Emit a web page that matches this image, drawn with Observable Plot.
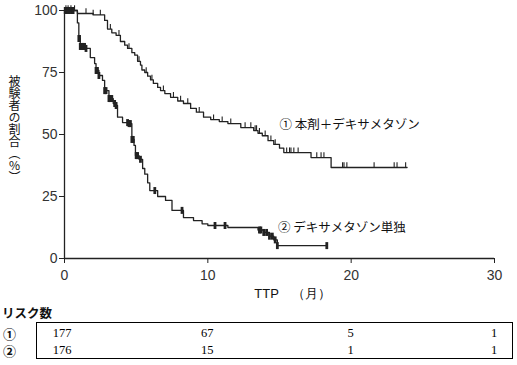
<!DOCTYPE html>
<html><head><meta charset="utf-8">
<script src="https://cdn.jsdelivr.net/npm/d3@7"></script>
<script src="https://cdn.jsdelivr.net/npm/@observablehq/plot@0.6"></script>
<style>
body{margin:0;background:#fff;}
#wrap{position:relative;width:517px;height:365px;overflow:hidden;font-family:"Liberation Sans",Arial,sans-serif;color:#222;}
#wrap svg{position:absolute;left:0;top:0;overflow:visible;}
.abs{position:absolute;white-space:nowrap;}
#ylab{left:8px;top:75px;writing-mode:vertical-rl;text-orientation:upright;font-family:"Noto Sans CJK JP",sans-serif;font-size:12px;line-height:12px;color:#111;}
#risktitle{left:2px;top:305px;font-family:"Noto Sans CJK JP",sans-serif;font-weight:bold;font-size:12.5px;line-height:16px;color:#111;}
#rowlab{left:3px;top:325px;white-space:pre;font-family:"Noto Sans CJK JP",sans-serif;font-weight:bold;font-size:13px;line-height:17px;color:#111;}
#box{left:36px;top:322px;width:477px;height:37px;box-sizing:border-box;border:1.3px solid #000;}
.num{font-family:"Liberation Serif","Times New Roman",serif;font-size:12.5px;line-height:14px;color:#000;transform:translateX(-50%);}
</style></head><body><div id="wrap"></div>
<script>
// Kaplan-Meier: ① 本剤＋デキサメタゾン
const comboTime = [0,0.9,2.0,2.8,3.0,3.3,3.6,3.9,4.2,4.4,4.7,4.9,5.1,5.3,5.4,5.6,5.8,6.0,6.2,6.5,6.7,7.0,7.4,7.9,8.3,8.8,9.2,9.7,10.2,10.8,11.4,12.3,13.2,13.5,13.8,14.2,14.6,15.0,15.3,17.2,18.6,23.9];
const comboPct  = [100,98.8,98.2,96,92.5,91,90,87.5,86,84.7,83,82,79.5,78,76,75,73.5,72,70.6,69,67.7,66.5,65,63.5,62.5,60.5,59,57,56,55.2,54.4,52.8,51.6,50.5,49.5,47.5,46,44.5,42.7,40.7,36.7,36.7];
const comboCensor = [0.1,0.25,0.45,0.7,1.5,2.0,2.5,3.2,3.8,4.5,5.2,5.7,6.1,6.9,7.6,8.1,8.6,9.4,10.4,11.0,11.6,12.6,13.0,13.3,13.4,13.6,14.0,14.4,14.7,15.5,15.7,15.8,16.0,16.3,17.6,17.9,18.1,19.4,19.5,19.7,21.6,23.0,23.2,23.8];
// ② デキサメタゾン単独
const dexTime = [0,0.9,1.0,1.1,1.5,1.8,2.1,2.2,2.4,2.65,2.8,3.1,3.4,3.6,3.7,4.05,4.5,4.7,4.85,4.95,5.2,5.45,5.6,5.8,5.95,6.5,7.05,7.5,8.3,9.0,9.6,10.0,11.4,13.5,13.9,14.3,14.6,14.85,18.3];
const dexPct  = [100,95,88.7,85.5,84.7,81,78.6,75.8,73.8,71.8,67.7,64.5,62.5,61.7,57,54.8,54.4,48,45.6,41.5,40,36.3,34,30.5,27.4,25,23.4,19.4,16.5,15.3,14,13.3,12.5,11.5,10.5,9,7.5,5.2,5.2];
const dexCensor = [0.05,0.15,0.25,0.35,0.5,0.6,1.0,1.05,1.1,1.2,1.3,1.4,1.5,2.2,2.3,2.4,2.8,2.9,3.1,3.2,3.3,3.5,3.6,4.4,4.5,4.6,4.7,4.8,5.0,5.1,5.3,6.3,8.2,10.5,11.2,13.6,13.7,13.9,14.1,14.3,14.5,14.7,14.85,18.3];

const xTicks = [0,10,20,30];
const yTicks = [0,25,50,75,100];
const seriesLabels = ["① 本剤＋デキサメタゾン","② デキサメタゾン単独"];
const labelX = [15.0, 14.9];
const labelY = [54, 12.1];
const xTitle = "TTP　（月）";
const yTitle = "被験者の割合（%）";
const riskTitle = "リスク数";
const riskRowLabels = ["①","②"];
const riskTimes = [0,10,20,30];
const riskCombo = [177,67,5,1];
const riskDex = [176,15,1,1];

const combo = comboTime.map((t,i)=>({t, p: comboPct[i]}));
const dex = dexTime.map((t,i)=>({t, p: dexPct[i]}));
function survAt(times, pcts, t){
  let v = pcts[0];
  for (let i=0;i<times.length;i++){ if (times[i] <= t) v = pcts[i]; }
  return v;
}
const comboC = comboCensor.map(t=>({t, p: survAt(comboTime, comboPct, t)}));
const dexC = dexCensor.map(t=>({t, p: survAt(dexTime, dexPct, t)}));
const labels = seriesLabels.map((s,i)=>({s, x: labelX[i], y: labelY[i]}));

const tickUp = {draw(ctx, size){ const r = Math.sqrt(size/Math.PI); ctx.moveTo(0,0); ctx.lineTo(0,-2*r); }};
const tickMid = {draw(ctx, size){ const r = Math.sqrt(size/Math.PI); ctx.moveTo(0,-r); ctx.lineTo(0,r); }};

const ink = "#222";
const chart = Plot.plot({
  width: 517, height: 305,
  marginLeft: 64, marginRight: 23, marginTop: 10, marginBottom: 47,
  x: {domain: [0,30]},
  y: {domain: [0,100]},
  style: {fontFamily: "'Liberation Sans', Arial, sans-serif", fontSize: "14px", color: ink, background: "transparent"},
  marks: [
    Plot.axisY({ticks: yTicks, tickSize: 5, tickPadding: 2, label: null, stroke: ink, fill: "#333", fontSize: 14}),
    Plot.axisX({ticks: xTicks, tickSize: 5, tickPadding: 7, label: null, stroke: ink, fill: "#333", fontSize: 14}),
    Plot.ruleX([0], {stroke: ink, strokeWidth: 1.3}),
    Plot.ruleY([0], {stroke: ink, strokeWidth: 1.3}),
    Plot.line(combo, {x: "t", y: "p", curve: "step-after", stroke: ink, strokeWidth: 1.3}),
    Plot.line(dex, {x: "t", y: "p", curve: "step-after", stroke: ink, strokeWidth: 1.3}),
    Plot.dot(comboC, {x: "t", y: "p", symbol: tickUp, r: 2.6, fill: "none", stroke: ink, strokeWidth: 1.1}),
    Plot.dot(dexC, {x: "t", y: "p", symbol: tickMid, r: 3.5, fill: "none", stroke: ink, strokeWidth: 2.8}),
    Plot.text(labels, {x: "x", y: "y", text: "s", textAnchor: "start", fontFamily: "'Noto Sans CJK JP', sans-serif", fontSize: 12.5, fill: "#111"}),
    Plot.text([xTitle], {frameAnchor: "bottom", dx: 13, dy: 39, fontSize: 13, fill: "#111"})
  ]
});

const wrap = document.getElementById("wrap");
wrap.appendChild(chart);

function addDiv(cls, id, text, left, top){
  const d = document.createElement("div");
  d.className = "abs " + cls; if (id) d.id = id;
  if (text != null) d.textContent = text;
  if (left != null) d.style.left = left + "px";
  if (top != null) d.style.top = top + "px";
  wrap.appendChild(d); return d;
}
addDiv("", "ylab", yTitle);
addDiv("", "risktitle", riskTitle);
addDiv("", "box", null);
addDiv("", "rowlab", riskRowLabels.join("\n"));
const rowTops = [326, 343];
const xs = chart.scale("x");
[riskCombo, riskDex].forEach((row, r)=>{
  row.forEach((v, j)=> addDiv("num", null, String(v), xs.apply(riskTimes[j]) - (j===0 ? 2 : 0), rowTops[r]));
});
</script></body></html>
